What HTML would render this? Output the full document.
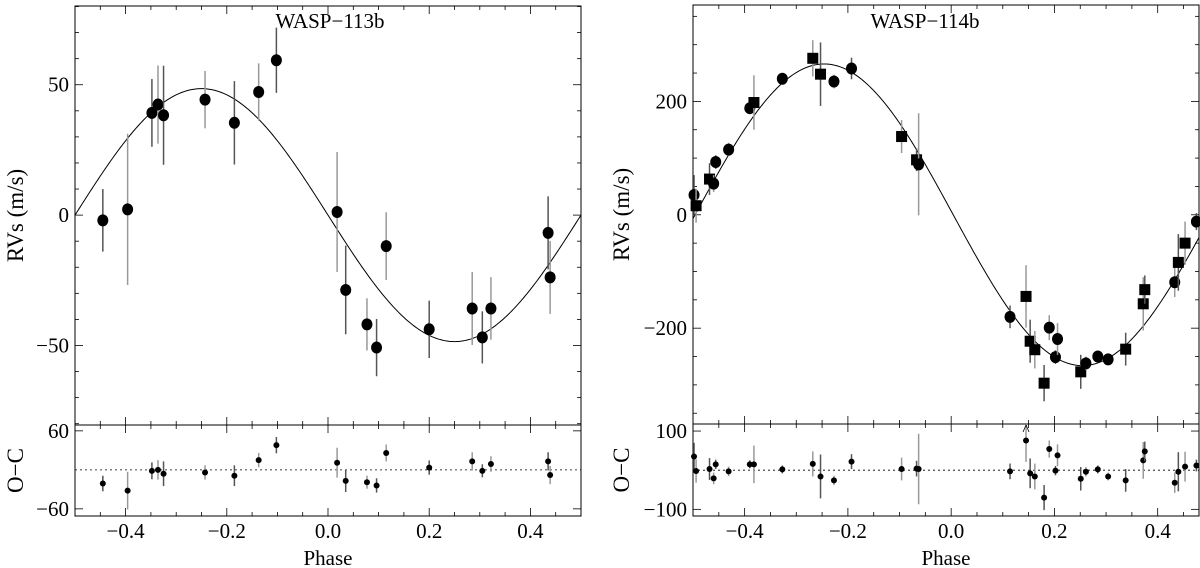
<!DOCTYPE html>
<html><head><meta charset="utf-8"><style>
html,body{margin:0;padding:0;background:#fff;}
svg{display:block;}
text{font-family:"Liberation Serif",serif;fill:#000;}
</style></head><body>
<svg id="chart" width="1200" height="568" viewBox="0 0 1200 568" xmlns="http://www.w3.org/2000/svg"></svg>
<script>
// ---- WASP-113b data ----
const p113Phase = [-0.445,-0.396,-0.348,-0.336,-0.325,-0.243,-0.185,-0.137,-0.102,0.018,0.035,0.077,0.096,0.115,0.200,0.285,0.305,0.322,0.435,0.439];
const p113RV    = [-2,2.2,39.2,42.4,38.3,44.3,35.4,47.2,59.4,1.2,-28.7,-41.9,-50.8,-11.9,-43.8,-35.8,-46.9,-35.8,-6.8,-23.9];
const p113Err   = [12,29,13,15,19,11,16,11,12.5,23,17,10,11,13,11,14,10,12,14,14];
const p113Res   = [-21,-32,-1.5,0,-6,-4,-9,15,38,11,-17,-19,-24,26,3.5,13,-1.5,9,13,-8];
const p113K = 48.5;
// ---- WASP-114b data ----
const p114Phase = [-0.498,-0.494,-0.468,-0.460,-0.456,-0.431,-0.390,-0.382,-0.327,-0.268,-0.253,-0.227,-0.193,-0.096,-0.067,-0.063,0.114,0.145,0.153,0.162,0.180,0.190,0.202,0.206,0.251,0.261,0.284,0.304,0.338,0.372,0.375,0.433,0.440,0.453,0.475];
const p114RV    = [35,16,63,55,93,115,188,198,240,276,248,235,258,138,97,89,-180,-144,-223,-238,-297,-199,-251,-219,-277,-262,-250,-255,-237,-157,-132,-119,-84,-50,-12];
const p114Err   = [35,30,28,15,12,12,10,48,10,32,56,12,19,29,20,90,20,55,38,33,32,22,12,28,30,12,10,10,29,47,25,26,50,38,15];
const p114Res   = [35,-2,3,-21,15,-3,15,15,2,16,-16,-26,22,3,4,3,-3,76,-8,-16,-70,54,-1,38,-22,-4,2,-16,-26,25,48,-32,-4,9,12];
const p114Sym   = ['c','s','s','c','c','c','c','s','c','s','s','c','c','s','s','c','c','s','s','s','s','c','c','c','s','c','c','c','s','s','s','c','s','s','c'];
const p114K = 266;
const xTickLabels = ['\u22120.4','\u22120.2','0.0','0.2','0.4'];
const xTickVals = [-0.4,-0.2,0,0.2,0.4];

const svg = document.getElementById('chart');
const NS = 'http://www.w3.org/2000/svg';
function mk(tag, attrs, parent){const e=document.createElementNS(NS,tag);for(const k in attrs)e.setAttribute(k,attrs[k]);(parent||svg).appendChild(e);return e;}
function lin(d0,d1,r0,r1){return v=>r0+(v-d0)*(r1-r0)/(d1-d0);}

function panel(cfg){
  const g = mk('g',{});
  
  
  const X = lin(cfg.xmin,cfg.xmax,cfg.x0,cfg.x1);
  const Y = lin(cfg.ymin,cfg.ymax,cfg.yb,cfg.yt);
  const RY = lin(cfg.rmin,cfg.rmax,cfg.rb,cfg.rt);
  const f1 = mk('rect',{x:cfg.x0,y:cfg.yt,width:cfg.x1-cfg.x0,height:cfg.yb-cfg.yt,fill:'none',stroke:'#000','stroke-width':1},g);
  
  
  const f2 = mk('rect',{x:cfg.x0,y:cfg.rt,width:cfg.x1-cfg.x0,height:cfg.rb-cfg.rt,fill:'none',stroke:'#000','stroke-width':1},g);
  
  
  for(let i=-10;i<=10;i++){
    const v=i*0.05; if(v<cfg.xmin-1e-9||v>cfg.xmax+1e-9) continue;
    const x=X(v); const major = Math.abs(Math.round(v*10)%2)===0 && Math.abs(v*10-Math.round(v*10))<1e-6;
    const L = major?8:4;
    [[cfg.yt,1],[cfg.yb,-1],[cfg.rt,1],[cfg.rb,-1]].forEach(([y,d])=>mk('line',{x1:x,x2:x,y1:y,y2:y+d*L,stroke:'#000','stroke-width':0.8},g));
  }
  xTickVals.forEach((v,i)=>{
    const t=mk('text',{x:X(v),y:538,'font-size':21,'text-anchor':'middle'},g);
    t.textContent=xTickLabels[i];
    
    
  });
  for(let v=Math.ceil(cfg.ymin/cfg.yminor)*cfg.yminor; v<=cfg.ymax; v+=cfg.yminor){
    const y=Y(v); const major = Math.abs(v % cfg.ymajor)<1e-6;
    const L=major?8:4;
    mk('line',{x1:cfg.x0,x2:cfg.x0+L,y1:y,y2:y,stroke:'#000','stroke-width':0.8},g);
    mk('line',{x1:cfg.x1,x2:cfg.x1-L,y1:y,y2:y,stroke:'#000','stroke-width':0.8},g);
    if(major){const t=mk('text',{x:cfg.x0-6,y:y+7,'font-size':21,'text-anchor':'end'},g);t.textContent=(v<0?'\u2212':'')+Math.abs(v);
      
      }
  }
  cfg.rlabels.forEach(v=>{
    const y=RY(v);
    mk('line',{x1:cfg.x0,x2:cfg.x0+8,y1:y,y2:y,stroke:'#000','stroke-width':0.8},g);
    mk('line',{x1:cfg.x1,x2:cfg.x1-8,y1:y,y2:y,stroke:'#000','stroke-width':0.8},g);
    const t=mk('text',{x:cfg.x0-6,y:y+7,'font-size':21,'text-anchor':'end'},g);t.textContent=(v<0?'\u2212':'')+Math.abs(v);
    
    
  });
  const zl=mk('line',{x1:cfg.x0,x2:cfg.x1,y1:RY(0),y2:RY(0),stroke:'#000','stroke-width':0.8,'stroke-dasharray':'2,3'},g);
  
  
  let d='';
  for(let i=0;i<=300;i++){const ph=cfg.xmin+(cfg.xmax-cfg.xmin)*i/300;const v=-cfg.K*Math.sin(2*Math.PI*(ph-cfg.off));d+=(i?'L':'M')+X(ph).toFixed(2)+','+Y(v).toFixed(2);}
  const c=mk('path',{d:d,fill:'none',stroke:'#000','stroke-width':1},g);
  
  
  cfg.ph.forEach((p,i)=>{
    const x=X(p), y=Y(cfg.rv[i]);
    const eb=mk('line',{x1:x,x2:x,y1:Y(cfg.rv[i]+cfg.err[i]),y2:Y(cfg.rv[i]-cfg.err[i]),stroke:i%2?'#999':'#555','stroke-width':1.5},g);
    
    
    let m;
    if(cfg.sym && cfg.sym[i]==='s') m=mk('rect',{x:x-5.5,y:y-5.5,width:11,height:11,fill:'#000'},g);
    else m=mk('ellipse',{cx:x,cy:y,rx:5.5,ry:6,fill:'#000'},g);
    
    
    const ry=RY(cfg.res[i]);
    let top=RY(cfg.res[i]+cfg.err[i]); if(top<cfg.rt) top=cfg.rt;
    let bot=RY(cfg.res[i]-cfg.err[i]); if(bot>cfg.rb) bot=cfg.rb;
    const reb=mk('line',{x1:x,x2:x,y1:top,y2:bot,stroke:i%2?'#999':'#555','stroke-width':1.5},g);
    
    
    const rm=mk('circle',{cx:x,cy:ry,r:3,fill:'#000'},g);
    
    
    if(RY(cfg.res[i]+cfg.err[i])<cfg.rt){
      const a=mk('path',{d:`M${x-3},${cfg.rt+8}L${x},${cfg.rt+1}L${x+3},${cfg.rt+8}`,fill:'none',stroke:'#000','stroke-width':0.8},g);
      
      
    }
  });
  const tt=mk('text',{x:cfg.titleX,y:28,'font-size':21,'text-anchor':'middle'},g);tt.textContent=cfg.title;
  
  
  const yl=mk('text',{x:0,y:0,'font-size':23,'text-anchor':'middle',transform:`translate(${cfg.x0-cfg.ylabOff},${(cfg.yt+cfg.yb)/2}) rotate(-90)`},g);yl.textContent='RVs (m/s)';
  
  
  const rl=mk('text',{x:0,y:0,'font-size':23,'text-anchor':'middle',transform:`translate(${cfg.x0-cfg.ylabOff},${(cfg.rt+cfg.rb)/2}) rotate(-90)`},g);rl.textContent='O\u2212C';
  
  
  const xl=mk('text',{x:(cfg.x0+Math.min(cfg.x1,X(0.5)))/2,y:565,'font-size':21,'text-anchor':'middle'},g);xl.textContent='Phase';
  
  
}

panel({name:'wasp-113b-panel',x0:75,x1:581,xmin:-0.5,xmax:0.5,yt:6,yb:425,ymin:-80.5,ymax:80.2,yminor:10,ymajor:50,
  rt:425,rb:516,rmin:-71,rmax:69,rlabels:[60,-60],
  ph:p113Phase,rv:p113RV,err:p113Err,res:p113Res,K:p113K,off:0,title:'WASP\u2212113b',titleX:330,ylabOff:52});
panel({name:'wasp-114b-panel',x0:693,x1:1199,xmin:-0.5,xmax:0.48,yt:5,yb:424,ymin:-369,ymax:370,yminor:50,ymajor:200,
  rt:424,rb:516,rmin:-117,rmax:118,rlabels:[100,-100],
  ph:p114Phase,rv:p114RV,err:p114Err,res:p114Res,sym:p114Sym,K:p114K,off:0.004,title:'WASP\u2212114b',titleX:925,ylabOff:64});
</script>
</body></html>
